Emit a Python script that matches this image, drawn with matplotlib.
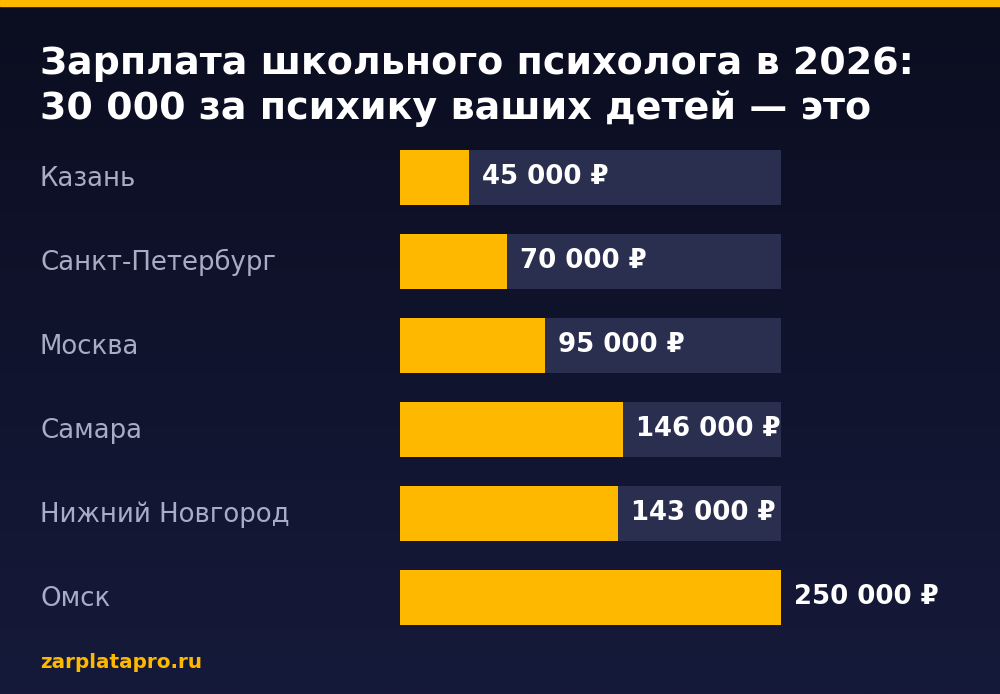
import matplotlib
matplotlib.use("Agg")
import matplotlib.pyplot as plt
import numpy as np
from matplotlib.transforms import blended_transform_factory
from matplotlib.colors import LinearSegmentedColormap
plt.rcParams['font.family'] = ['DejaVu Sans']

cities = ["Казань", "Санкт-Петербург", "Москва", "Самара", "Нижний Новгород", "Омск"]
values = [45000, 70000, 95000, 146000, 143000, 250000]
value_labels = ["45 000 ₽", "70 000 ₽", "95 000 ₽", "146 000 ₽", "143 000 ₽", "250 000 ₽"]
title_lines = ["Зарплата школьного психолога в 2026:", "30 000 за психику ваших детей — это"]
footer = "zarplatapro.ru"
xmax = 250000

W, H = 1000, 694
fig = plt.figure(figsize=(W/100, H/100), dpi=100)
bg = fig.add_axes([0, 0, 1, 1])
grad = np.linspace(0, 1, 256).reshape(-1, 1)
cmap = LinearSegmentedColormap.from_list("g", ["#0b0d20", "#161a3a"])
bg.imshow(grad, aspect="auto", cmap=cmap, extent=[0, W, H, 0])
bg.set_xlim(0, W); bg.set_ylim(H, 0); bg.axis("off")
bg.add_patch(plt.Rectangle((0, 0), W, 6, color="#ffb800"))
for i, t in enumerate(title_lines):
    bg.text(40, 64 + 45*i, t, color="white", fontsize=27.4, fontweight="bold", va="center", ha="left")
bg.text(40, 662, footer, color="#ffb800", fontsize=14.4, fontweight="bold", va="center")

top, bottom = 135, 639
ax = fig.add_axes([400/W, 1 - bottom/H, 381/W, (bottom-top)/H])
ax.set_xlim(0, xmax); ax.set_ylim(len(cities) - 0.5, -0.5)
ax.axis("off")
y = np.arange(len(cities))
h = 55/84
ax.barh(y, [xmax]*len(cities), height=h, color="#2a2f4f")
ax.barh(y, values, height=h, color="#ffb800")
tr = blended_transform_factory(fig.transFigure, ax.transData)
for i, (c, v, l) in enumerate(zip(cities, values, value_labels)):
    ax.text(40/W, i + 0.02, c, transform=tr, color="#a9acc6", fontsize=18.7, va="center", ha="left")
    ax.annotate(l, (v, i), xytext=(9.5, 0), textcoords="offset points", color="white",
                fontsize=18.7, fontweight="bold", va="center", ha="left", annotation_clip=False)
fig.savefig("out.png", dpi=100)
